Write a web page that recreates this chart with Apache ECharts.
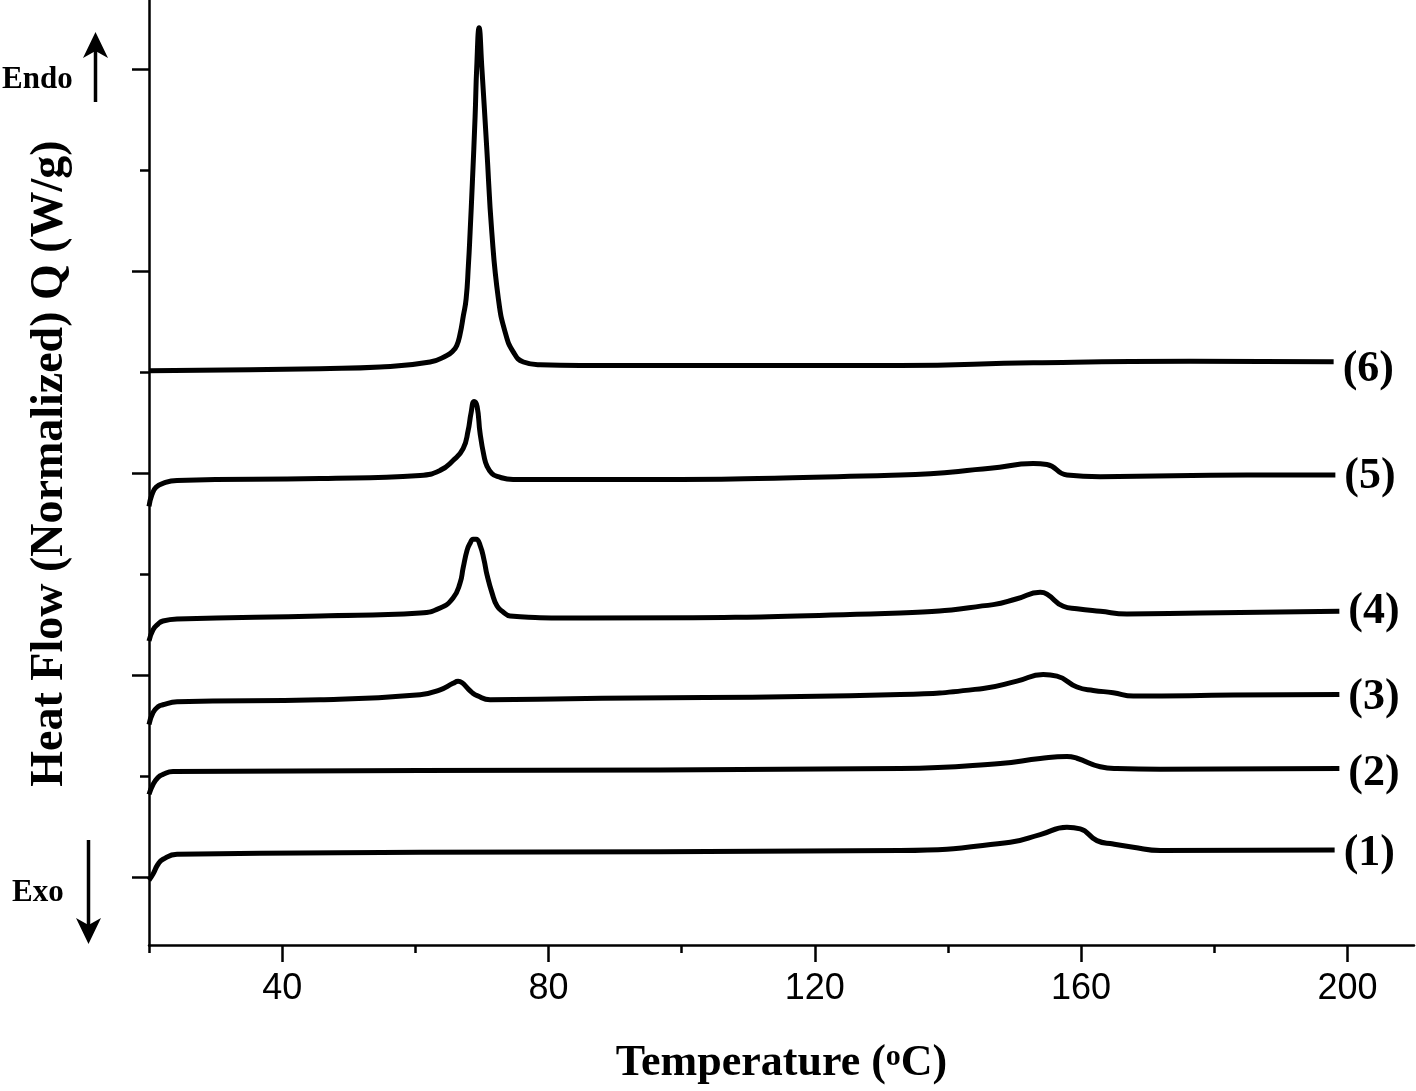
<!DOCTYPE html>
<html><head><meta charset="utf-8">
<script src="https://cdn.jsdelivr.net/npm/echarts@6/dist/echarts.min.js"></script>
<style>html,body{margin:0;padding:0;background:#fff}#c{width:1416px;height:1091px}</style>
</head><body><div id="c"></div>
<script>
// Temperature (°C) and normalized heat flow (offset units, one major tick = 1)
const temp1 = [20.00, 20.60, 21.35, 22.10, 24.21, 60.72, 132.83, 149.36, 153.86, 157.87, 159.87, 162.38, 164.83, 167.84, 171.89, 198.08];
const heat1 = [-0.015, 0.015, 0.064, 0.089, 0.114, 0.123, 0.132, 0.173, 0.211, 0.247, 0.239, 0.181, 0.164, 0.148, 0.132, 0.135];

const temp2 = [20.00, 20.60, 21.35, 22.10, 23.61, 60.72, 132.83, 147.85, 153.86, 157.87, 159.38, 162.88, 165.39, 171.89, 198.79];
const heat2 = [0.410, 0.459, 0.494, 0.509, 0.523, 0.528, 0.538, 0.563, 0.588, 0.598, 0.589, 0.547, 0.538, 0.535, 0.538];

const temp3 = [20.00, 20.60, 21.35, 22.10, 24.21, 45.69, 60.72, 63.72, 65.67, 66.42, 67.03, 67.78, 68.53, 69.28, 71.23, 83.25, 132.83, 145.30, 150.36, 154.31, 156.37, 159.38, 161.83, 164.83, 167.84, 182.86, 198.79];
const heat3 = [0.756, 0.815, 0.844, 0.854, 0.869, 0.879, 0.904, 0.928, 0.960, 0.970, 0.963, 0.938, 0.914, 0.899, 0.879, 0.884, 0.905, 0.935, 0.971, 1.004, 0.996, 0.942, 0.925, 0.914, 0.897, 0.902, 0.905];

const temp4 = [20.00, 20.60, 21.35, 22.10, 24.21, 45.69, 60.72, 63.72, 65.67, 66.72, 67.18, 67.78, 68.23, 68.68, 69.13, 69.73, 70.33, 70.78, 71.53, 72.28, 73.19, 74.24, 83.25, 132.83, 146.80, 150.36, 153.86, 154.87, 157.32, 159.38, 162.88, 166.89, 177.90, 198.79];
const heat4 = [1.170, 1.225, 1.254, 1.269, 1.279, 1.294, 1.309, 1.333, 1.383, 1.457, 1.531, 1.620, 1.654, 1.674, 1.674, 1.644, 1.570, 1.496, 1.407, 1.343, 1.314, 1.294, 1.284, 1.309, 1.350, 1.379, 1.411, 1.402, 1.342, 1.330, 1.317, 1.304, 1.309, 1.317];

const temp5 = [20.00, 20.45, 21.05, 22.10, 24.21, 45.69, 60.72, 63.72, 65.67, 67.18, 67.93, 68.38, 68.83, 69.28, 69.73, 70.33, 70.78, 71.50, 72.28, 74.69, 83.25, 132.83, 146.35, 152.81, 154.87, 157.87, 162.88, 184.92, 198.19];
const heat5 = [1.837, 1.896, 1.931, 1.951, 1.965, 1.975, 1.990, 2.015, 2.064, 2.123, 2.212, 2.301, 2.356, 2.331, 2.198, 2.084, 2.035, 2.000, 1.985, 1.970, 1.970, 1.992, 2.025, 2.049, 2.044, 1.992, 1.984, 1.992, 1.992];

const temp6 = [20.00, 35.17, 45.69, 54.71, 62.22, 64.73, 65.60, 66.23, 66.72, 67.22, 67.63, 67.97, 68.23, 68.57, 68.98, 69.23, 69.58, 69.98, 70.74, 71.49, 72.48, 73.49, 74.73, 76.24, 78.74, 84.75, 132.83, 152.81, 176.40, 197.93];
const heat6 = [2.509, 2.514, 2.519, 2.527, 2.552, 2.584, 2.605, 2.634, 2.690, 2.782, 2.864, 3.029, 3.195, 3.442, 3.769, 4.016, 4.207, 4.016, 3.605, 3.194, 2.864, 2.700, 2.601, 2.552, 2.538, 2.535, 2.535, 2.548, 2.555, 2.553];

const curveNames = ['(1)', '(2)', '(3)', '(4)', '(5)', '(6)'];
const xMajorTicks = [40, 80, 120, 160, 200];
const xMinorTicks = [20, 60, 100, 140, 180];
const yMajorTicks = [0, 1, 2, 3, 4];
const yMinorTicks = [0.5, 1.5, 2.5, 3.5];

const serif = '"Liberation Serif", "Times New Roman", serif';
const sans = '"Liberation Sans", Arial, sans-serif';
const curves = [[temp1, heat1], [temp2, heat2], [temp3, heat3], [temp4, heat4], [temp5, heat5], [temp6, heat6]];
const labelOffsets = [[0, 4], [0, 5], [0, 3], [0, 0], [0, 2], [0, 8]];
const axisColor = '#000';

const chart = echarts.init(document.getElementById('c'));
const option = {
  animation: false,
  backgroundColor: '#fff',
  grid: { left: 149, right: 2, top: 0, bottom: 143, containLabel: false },
  xAxis: [{
    type: 'value', min: 20, max: 210, position: 'bottom',
    axisLine: { show: true, onZero: false, lineStyle: { color: axisColor, width: 2.5 } },
    axisTick: { show: true, customValues: xMajorTicks, length: 17, lineStyle: { color: axisColor, width: 2.5 } },
    axisLabel: { show: true, customValues: xMajorTicks, margin: 26, color: '#000', fontSize: 36, fontFamily: sans },
    splitLine: { show: false },
    name: 'Temperature ({sup|o}C)', nameLocation: 'middle', nameGap: 97,
    nameTextStyle: {
      color: '#000', fontFamily: serif, fontWeight: 'bold', fontSize: 44,
      rich: { sup: { color: '#000', fontFamily: serif, fontWeight: 'bold', fontSize: 30, verticalAlign: 'top', padding: [0, 0, 0, 0] } }
    }
  }, {
    type: 'value', min: 20, max: 210, position: 'bottom',
    axisLine: { show: false, onZero: false },
    axisTick: { show: true, customValues: xMinorTicks, length: 8, lineStyle: { color: axisColor, width: 2.5 } },
    axisLabel: { show: false },
    splitLine: { show: false }
  }],
  yAxis: [{
    type: 'value', min: -0.336, max: 4.345, position: 'left',
    axisLine: { show: true, onZero: false, lineStyle: { color: axisColor, width: 2.5 } },
    axisTick: { show: true, customValues: yMajorTicks, length: 17, lineStyle: { color: axisColor, width: 2.5 } },
    axisLabel: { show: false },
    splitLine: { show: false },
    name: 'Heat Flow (Normalized) Q (W/g)', nameLocation: 'middle', nameRotate: 90, nameGap: 76,
    nameTextStyle: { color: '#000', fontFamily: serif, fontWeight: 'bold', fontSize: 46, padding: [0, 0, 0, 18] }
  }, {
    type: 'value', min: -0.336, max: 4.345, position: 'left',
    axisLine: { show: false, onZero: false },
    axisTick: { show: true, customValues: yMinorTicks, length: 9, lineStyle: { color: axisColor, width: 2.5 } },
    axisLabel: { show: false },
    splitLine: { show: false }
  }],
  series: curves.map((c, i) => ({
    type: 'line', name: curveNames[i], xAxisIndex: 0, yAxisIndex: 0,
    data: c[0].map((t, j) => [t, c[1][j]]),
    showSymbol: false, symbol: 'none', smooth: 0.5,
    lineStyle: { color: '#000', width: 5, join: 'round', cap: 'butt' },
    endLabel: {
      show: true, formatter: curveNames[i], distance: 9, offset: labelOffsets[i],
      color: '#000', fontFamily: serif, fontWeight: 'bold', fontSize: 44
    },
    emphasis: { disabled: true }, silent: true
  })),
  graphic: [
    { type: 'text', x: 2, y: 80, style: { text: 'Endo', font: 'bold 31px "Liberation Serif", serif', fill: '#000', textAlign: 'left', textVerticalAlign: 'middle' } },
    { type: 'text', x: 12, y: 893, style: { text: 'Exo', font: 'bold 31px "Liberation Serif", serif', fill: '#000', textAlign: 'left', textVerticalAlign: 'middle' } },
    { type: 'line', shape: { x1: 95.5, y1: 50, x2: 95.5, y2: 102 }, style: { stroke: '#000', lineWidth: 3.5 } },
    { type: 'polygon', shape: { points: [[95.5, 32], [108, 58], [95.5, 51], [83, 58]] }, style: { fill: '#000' } },
    { type: 'line', shape: { x1: 88.5, y1: 840, x2: 88.5, y2: 928 }, style: { stroke: '#000', lineWidth: 3.5 } },
    { type: 'polygon', shape: { points: [[88.5, 944], [101, 918], [88.5, 925], [76, 918]] }, style: { fill: '#000' } }
  ]
};
chart.setOption(option);
</script></body></html>
